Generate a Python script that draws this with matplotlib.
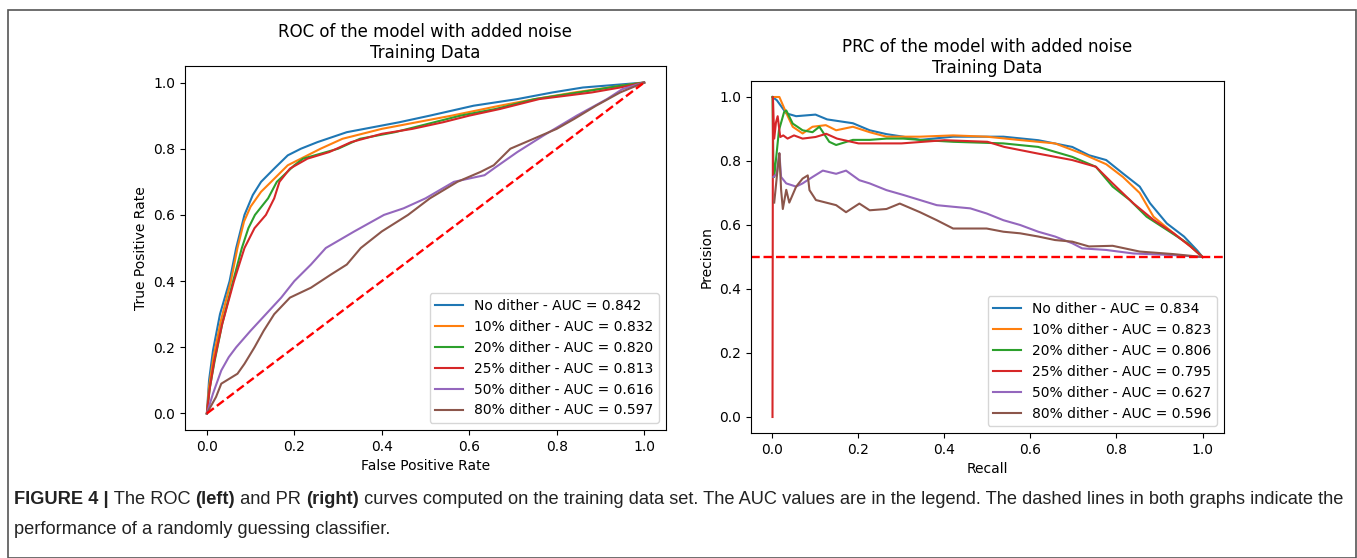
import numpy as np
import matplotlib
matplotlib.use("Agg")
import matplotlib.pyplot as plt
from matplotlib.patches import Rectangle

# ROC curves (false positive rate, true positive rate)
roc_labels = ["No dither - AUC = 0.842", "10% dither - AUC = 0.832", "20% dither - AUC = 0.820",
              "25% dither - AUC = 0.813", "50% dither - AUC = 0.616", "80% dither - AUC = 0.597"]
roc_fpr = [
    [0, 0.005, 0.014, 0.03, 0.052, 0.067, 0.086, 0.105, 0.124, 0.154, 0.185, 0.215, 0.253, 0.32, 0.38,
     0.44, 0.51, 0.61, 0.71, 0.79, 0.86, 1.0],
    [0, 0.005, 0.015, 0.032, 0.055, 0.07, 0.085, 0.1, 0.124, 0.147, 0.185, 0.23, 0.26, 0.31, 0.40,
     0.48, 0.56, 0.67, 0.75, 0.84, 1.0],
    [0, 0.007, 0.018, 0.035, 0.06, 0.08, 0.095, 0.11, 0.14, 0.16, 0.2, 0.22, 0.3, 0.35, 0.43, 0.49,
     0.58, 0.66, 0.75, 0.85, 0.945, 1.0],
    [0, 0.006, 0.017, 0.035, 0.062, 0.086, 0.109, 0.135, 0.154, 0.166, 0.19, 0.23, 0.28, 0.33, 0.40,
     0.47, 0.54, 0.6, 0.67, 0.76, 0.88, 0.945, 1.0],
    [0, 0.014, 0.033, 0.05, 0.067, 0.1, 0.135, 0.17, 0.2, 0.238, 0.272, 0.337, 0.405, 0.45, 0.5,
     0.565, 0.635, 0.656, 0.71, 0.77, 0.846, 0.915, 0.95, 1.0],
    [0, 0.021, 0.033, 0.07, 0.086, 0.109, 0.13, 0.154, 0.19, 0.238, 0.284, 0.32, 0.352, 0.4, 0.46,
     0.51, 0.573, 0.626, 0.656, 0.694, 0.747, 0.8, 0.84, 0.89, 0.945, 1.0],
]
roc_tpr = [
    [0, 0.1, 0.19, 0.3, 0.4, 0.5, 0.6, 0.66, 0.7, 0.74, 0.78, 0.8, 0.82, 0.85, 0.865,
     0.88, 0.9, 0.93, 0.95, 0.97, 0.985, 1.0],
    [0, 0.08, 0.17, 0.28, 0.4, 0.5, 0.58, 0.625, 0.67, 0.7, 0.75, 0.78, 0.8, 0.83, 0.86,
     0.88, 0.9, 0.93, 0.95, 0.97, 1.0],
    [0, 0.08, 0.16, 0.27, 0.4, 0.5, 0.56, 0.6, 0.65, 0.7, 0.75, 0.77, 0.8, 0.83, 0.85, 0.87,
     0.9, 0.92, 0.95, 0.97, 0.99, 1.0],
    [0, 0.07, 0.16, 0.27, 0.4, 0.5, 0.56, 0.6, 0.65, 0.7, 0.74, 0.77, 0.79, 0.82, 0.845,
     0.86, 0.88, 0.9, 0.92, 0.95, 0.97, 0.985, 1.0],
    [0, 0.06, 0.13, 0.17, 0.2, 0.25, 0.3, 0.35, 0.4, 0.45, 0.5, 0.55, 0.6, 0.62, 0.65,
     0.7, 0.72, 0.74, 0.79, 0.84, 0.9, 0.95, 0.98, 1.0],
    [0, 0.05, 0.09, 0.12, 0.15, 0.2, 0.25, 0.3, 0.35, 0.38, 0.42, 0.45, 0.5, 0.55, 0.6,
     0.65, 0.7, 0.73, 0.75, 0.8, 0.83, 0.86, 0.89, 0.93, 0.97, 1.0],
]

# PR curves (recall, precision)
prc_labels = ["No dither - AUC = 0.834", "10% dither - AUC = 0.823", "20% dither - AUC = 0.806",
              "25% dither - AUC = 0.795", "50% dither - AUC = 0.627", "80% dither - AUC = 0.596"]
prc_recall = [
    [0, 0.01, 0.032, 0.055, 0.1, 0.127, 0.187, 0.226, 0.265, 0.304, 0.343, 0.42, 0.537, 0.618, 0.697,
     0.736, 0.776, 0.815, 0.854, 0.878, 0.917, 0.957, 0.988, 1.0],
    [0, 0.016, 0.032, 0.047, 0.07, 0.093, 0.124, 0.148, 0.187, 0.226, 0.265, 0.343, 0.42, 0.498, 0.579,
     0.657, 0.72, 0.776, 0.815, 0.854, 0.886, 0.933, 0.972, 1.0],
    [0, 0.002, 0.004, 0.015, 0.027, 0.032, 0.047, 0.07, 0.093, 0.109, 0.132, 0.148, 0.187, 0.226,
     0.265, 0.304, 0.343, 0.42, 0.537, 0.618, 0.697, 0.752, 0.791, 0.831, 0.87, 0.917, 0.965, 1.0],
    [0, 0.001, 0.004, 0.008, 0.012, 0.018, 0.025, 0.035, 0.05, 0.07, 0.1, 0.125, 0.15, 0.2, 0.3,
     0.4, 0.5, 0.539, 0.618, 0.697, 0.752, 0.791, 0.839, 0.886, 0.933, 0.972, 1.0],
    [0.002, 0.01, 0.016, 0.02, 0.032, 0.055, 0.07, 0.093, 0.117, 0.148, 0.171, 0.202, 0.226, 0.265,
     0.304, 0.343, 0.382, 0.42, 0.46, 0.498, 0.537, 0.576, 0.618, 0.657, 0.697, 0.72, 0.776, 0.839,
     0.933, 1.0],
    [0.004, 0.013, 0.016, 0.02, 0.024, 0.032, 0.039, 0.055, 0.07, 0.082, 0.086, 0.101, 0.148, 0.171,
     0.202, 0.226, 0.265, 0.296, 0.343, 0.382, 0.42, 0.498, 0.537, 0.576, 0.618, 0.657, 0.697, 0.736,
     0.791, 0.854, 0.933, 1.0],
]
prc_precision = [
    [1.0, 0.99, 0.949, 0.94, 0.945, 0.93, 0.918, 0.896, 0.884, 0.876, 0.866, 0.876, 0.876, 0.865, 0.844,
     0.818, 0.803, 0.761, 0.72, 0.668, 0.605, 0.564, 0.52, 0.5],
    [1.0, 1.0, 0.95, 0.907, 0.886, 0.907, 0.912, 0.896, 0.907, 0.89, 0.876, 0.876, 0.88, 0.876, 0.865,
     0.855, 0.823, 0.79, 0.75, 0.70, 0.626, 0.574, 0.533, 0.5],
    [1.0, 0.8, 0.75, 0.896, 0.953, 0.958, 0.917, 0.896, 0.89, 0.907, 0.86, 0.85, 0.866, 0.866,
     0.87, 0.87, 0.866, 0.86, 0.855, 0.844, 0.813, 0.782, 0.72, 0.678, 0.626, 0.585, 0.543, 0.5],
    [0.0, 1.0, 0.87, 0.92, 0.94, 0.875, 0.88, 0.87, 0.88, 0.87, 0.875, 0.885, 0.87, 0.855, 0.855,
     0.865, 0.86, 0.844, 0.823, 0.803, 0.782, 0.73, 0.668, 0.616, 0.574, 0.533, 0.5],
    [0.75, 0.76, 0.824, 0.75, 0.73, 0.72, 0.73, 0.75, 0.77, 0.76, 0.77, 0.74, 0.73, 0.709,
     0.694, 0.678, 0.662, 0.657, 0.652, 0.636, 0.615, 0.6, 0.579, 0.564, 0.543, 0.527, 0.522, 0.511,
     0.506, 0.5],
    [0.67, 0.79, 0.824, 0.71, 0.65, 0.71, 0.67, 0.72, 0.745, 0.755, 0.709, 0.678, 0.662, 0.64,
     0.667, 0.646, 0.65, 0.667, 0.64, 0.615, 0.589, 0.589, 0.579, 0.574, 0.564, 0.553, 0.548, 0.533,
     0.535, 0.517, 0.509, 0.5],
]

W, H = 1357, 558
fig = plt.figure(figsize=(W / 100, H / 100), dpi=100)


def px_axes(x0, y0, x1, y1):
    return fig.add_axes([x0 / W, 1 - y1 / H, (x1 - x0) / W, (y1 - y0) / H])


ax1 = px_axes(185, 66, 666, 430)
for fpr, tpr, lab in zip(roc_fpr, roc_tpr, roc_labels):
    ax1.plot(fpr, tpr, lw=1.5, label=lab)
ax1.plot([0, 1], [0, 1], "r--", lw=1.7)
ax1.set_xlim(-0.05, 1.05)
ax1.set_ylim(-0.05, 1.05)
ax1.set_xlabel("False Positive Rate")
ax1.set_ylabel("True Positive Rate")
ax1.set_title("ROC of the model with added noise\nTraining Data")
ax1.legend(loc="lower right")

ax2 = px_axes(751, 81, 1224, 433)
for rec, prec, lab in zip(prc_recall, prc_precision, prc_labels):
    ax2.plot(rec, prec, lw=1.5, label=lab)
ax2.axhline(0.5, color="r", ls="--", lw=1.7)
ax2.set_xlim(-0.05, 1.05)
ax2.set_ylim(-0.05, 1.05)
ax2.set_xlabel("Recall")
ax2.set_ylabel("Precision")
ax2.set_title("PRC of the model with added noise\nTraining Data")
ax2.legend(loc="lower right")

# outer frame
fig.patches.append(Rectangle((8 / W, 0), (1356 - 8) / W, 1 - 10 / H, transform=fig.transFigure,
                             fill=False, edgecolor="#555555", lw=1.2))

# caption, with bold parts placed piece by piece
line1 = [("FIGURE 4 |", "bold"), (" The ROC ", "normal"), ("(left)", "bold"), (" and PR ", "normal"),
         ("(right)", "bold"),
         (" curves computed on the training data set. The AUC values are in the legend. "
          "The dashed lines in both graphs indicate the", "normal")]
line2 = [("performance of a randomly guessing classifier.", "normal")]
cap_font = ["Liberation Sans", "DejaVu Sans"]
renderer = fig.canvas.get_renderer()


def draw_line(pieces, y_px, size):
    x = 14
    texts = []
    for s, weight in pieces:
        t = fig.text(x / W, 1 - y_px / H, s, fontsize=size, fontweight=weight, family=cap_font,
                     va="center", ha="left", color="#222222")
        bb = t.get_window_extent(renderer)
        x += bb.width
        texts.append(t)
    return x, texts


end, texts = draw_line(line1, 500, 12)
scale = (1347 - 14) / (end - 14)
for t in texts:
    t.remove()
size = 12 * scale
draw_line(line1, 500, size)
draw_line(line2, 530, size)

fig.savefig("out.png", dpi=100)
